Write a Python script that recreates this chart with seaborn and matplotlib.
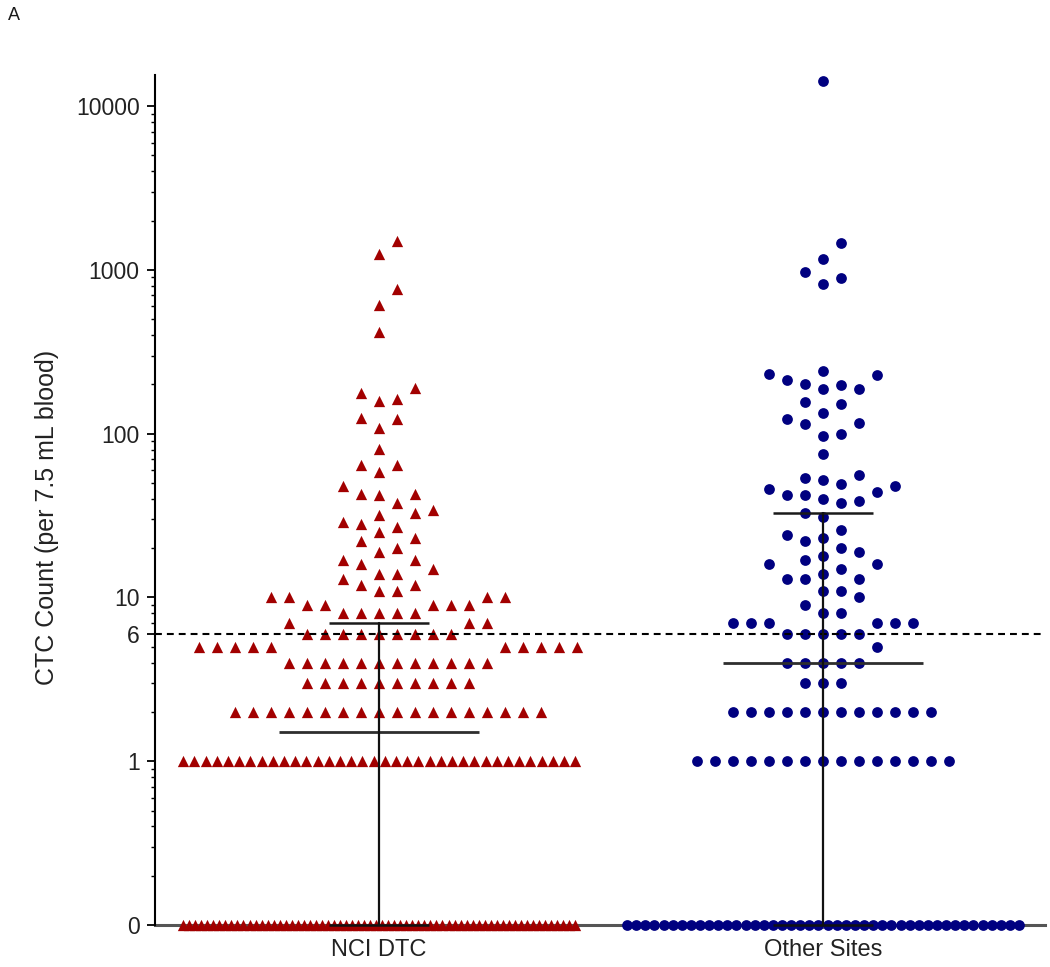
import numpy as np
import matplotlib
matplotlib.use("Agg")
import matplotlib.pyplot as plt
import seaborn as sns
from matplotlib.ticker import FixedLocator, FixedFormatter, NullFormatter

# ---------------- data ----------------
groups = ["NCI DTC", "Other Sites"]

nci_int_values = [0, 1, 2, 3, 4, 5, 6, 7, 8, 9, 10]
nci_int_counts = [66, 36, 18, 10, 12, 10, 9, 3, 5, 5, 4]
nci_high = [11, 11, 12, 12, 13, 14, 14, 15, 16, 17, 17, 19, 20, 22, 23, 25, 27, 28,
            29, 32, 33, 34, 38, 42, 43, 43, 48, 58, 64, 64, 81, 109, 123, 125, 159,
            163, 178, 191, 419, 612, 765, 1250, 1500]

other_int_values = [0, 1, 2, 3, 4, 5, 6, 7, 8, 9, 10]
other_int_counts = [44, 15, 12, 3, 5, 1, 5, 6, 2, 1, 1]
other_high = [11, 11, 13, 13, 13, 14, 15, 16, 16, 17, 18, 19, 20, 22, 23, 24, 26, 31,
              33, 38, 39, 40, 42, 42, 44, 46, 48, 49, 52, 54, 56, 75, 97, 100, 115,
              117, 123, 134, 152, 157, 188, 188, 199, 202, 213, 229, 232, 242, 822,
              894, 972, 1167, 1462, 14200]

medians = [1.5, 4.0]
q1 = [0.0, 0.0]
q3 = [7.0, 33.0]
cutoff = 6

ytick_values = [0, 1, 6, 10, 100, 1000, 10000]
ytick_labels = ["0", "1", "6", "10", "100", "1000", "10000"]
ylabel = "CTC Count (per 7.5 mL blood)"
panel_label = "A"

# ---------------- style ----------------
sns.set_theme(style="ticks")
plt.rcParams["font.family"] = ["Liberation Sans", "DejaVu Sans"]

RED = "#A20000"
BLUE = "#000080"

W, H = 1050, 967
fig = plt.figure(figsize=(W / 100, H / 100), dpi=100)
ax = fig.add_axes([155 / W, (H - 925) / H, (1045 - 155) / W, (925 - 75) / H])


def fwd(y):
    return np.log10(np.maximum(np.asarray(y, dtype=float), 0.1))


def inv(y):
    return 10.0 ** np.asarray(y, dtype=float)


ax.set_yscale("function", functions=(fwd, inv))
XLIM = (-0.505, 1.5)
YLIM = (0, 15500)
ax.set_xlim(*XLIM)
ax.set_ylim(*YLIM)


def expand(int_values, int_counts, high):
    vals = []
    for v, c in zip(int_values, int_counts):
        vals += [v] * c
    return np.array(vals + list(high), dtype=float)


def swarm_positions(vals, center, step=18.0, vgap=17.0, maxw=392.0):
    """GraphPad-like column scatter layout computed in pixel space."""
    pts = ax.transData.transform(np.column_stack([np.full(len(vals), center), vals]))
    ypix = pts[:, 1]
    px_per_unit = ax.transData.transform((1, 0))[0] - ax.transData.transform((0, 0))[0]
    xoff = np.full(len(vals), np.nan)
    placed_x, placed_y = [], []
    uniq, inv_idx, counts = np.unique(vals, return_inverse=True, return_counts=True)
    for k, c in enumerate(counts):
        if (c - 1) * step > maxw:
            idx = np.where(inv_idx == k)[0]
            xoff[idx] = np.linspace(-maxw / 2, maxw / 2, c)
            placed_x += list(xoff[idx])
            placed_y += list(ypix[idx])
    order = np.argsort(vals, kind="stable")
    for i in order:
        if not np.isnan(xoff[i]):
            continue
        y = ypix[i]
        px = np.array(placed_x)
        py = np.array(placed_y)
        if len(px):
            near = np.abs(py - y) < vgap
            nx = px[near]
        else:
            nx = np.array([])
        cands = np.concatenate([[0.0], nx - step, nx + step])
        ok = [c for c in cands if np.all(np.abs(nx - c) >= step - 1e-6)]
        best = min(ok, key=lambda c: (abs(c), -c))
        xoff[i] = best
        placed_x.append(best)
        placed_y.append(y)
    return center + xoff / px_per_unit


nci_vals = expand(nci_int_values, nci_int_counts, nci_high)
other_vals = expand(other_int_values, other_int_counts, other_high)

nci_x = swarm_positions(nci_vals, 0)
other_x = swarm_positions(other_vals, 1)

sns.scatterplot(x=nci_x, y=nci_vals, marker="^", color=RED, s=66, linewidth=0,
                ax=ax, clip_on=False, zorder=2, legend=False)
sns.scatterplot(x=other_x, y=other_vals, marker="o", color=BLUE, s=60, linewidth=0,
                ax=ax, clip_on=False, zorder=2, legend=False)

# median with interquartile range
for i, (m, lo, hi) in enumerate(zip(medians, q1, q3)):
    ax.plot([i - 0.225, i + 0.225], [m, m], color="#2e2e2e", lw=2.0, zorder=4,
            solid_capstyle="butt")
    ax.plot([i - 0.113, i + 0.113], [hi, hi], color="#1a1a1a", lw=1.8, zorder=4,
            solid_capstyle="butt")
    ax.plot([i - 0.113, i + 0.113], [lo, lo], color="#111111", lw=1.8, zorder=4,
            clip_on=False, solid_capstyle="butt")
    ax.plot([i, i], [lo, hi], color="#111111", lw=1.6, zorder=4, clip_on=False)

# cutoff line
ax.axhline(cutoff, color="black", lw=1.5, ls=(0, (3.3, 2.4)), zorder=3)

ax.set_xlim(*XLIM)
ax.set_ylim(*YLIM)

# axes styling
sns.despine(ax=ax)
ax.spines["left"].set_linewidth(1.5)
ax.spines["left"].set_color("black")
ax.spines["bottom"].set_linewidth(2.2)
ax.spines["bottom"].set_color("#555555")
ax.spines["bottom"].set_zorder(1)

ax.yaxis.set_major_locator(FixedLocator(ytick_values))
ax.yaxis.set_major_formatter(FixedFormatter(ytick_labels))
minor = [k * 10.0 ** e for e in range(-1, 4) for k in range(2, 10)]
ax.yaxis.set_minor_locator(FixedLocator(minor))
ax.yaxis.set_minor_formatter(NullFormatter())
ax.tick_params(axis="y", which="major", length=6, width=1.3, pad=5,
               labelsize=16.5, labelcolor="#222222", color="black")
ax.tick_params(axis="y", which="minor", length=3, width=1.0, color="black")

ax.set_xticks([0, 1])
ax.set_xticklabels(groups)
ax.tick_params(axis="x", length=3, width=1.2, pad=7, labelsize=17,
               labelcolor="#222222", color="#555555")

ax.set_ylabel(ylabel, fontsize=18, color="#222222")
ax.yaxis.set_label_coords(-0.108, 0.48)
ax.set_xlabel("")

fig.text(8 / W, 1 - 16 / H, panel_label, fontsize=13, va="center", ha="left",
         color="#1a1a1a")

fig.savefig("out.png", dpi=100)
